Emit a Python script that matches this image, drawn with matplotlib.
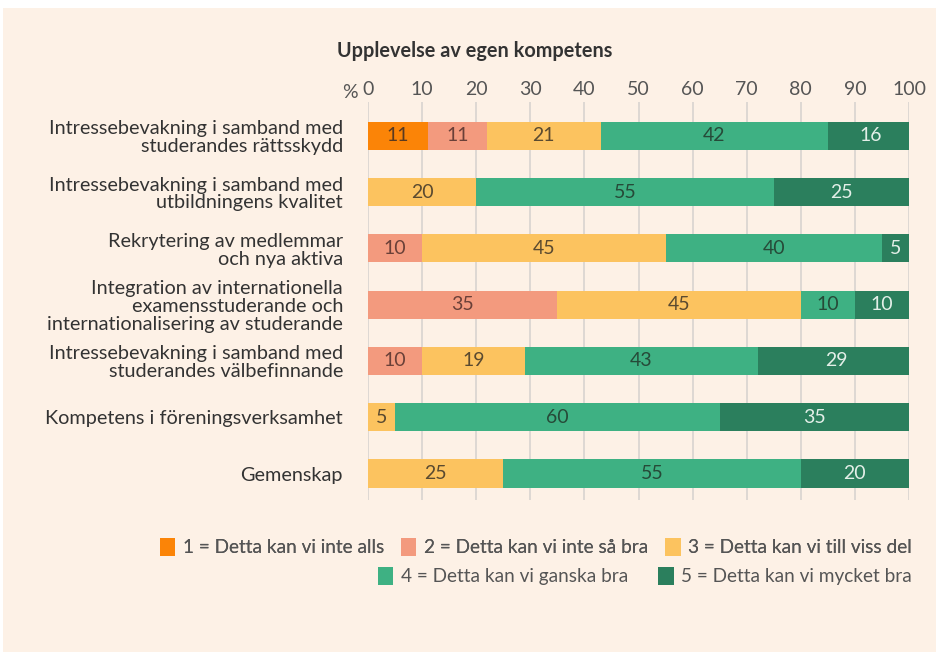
import matplotlib
matplotlib.use("Agg")
import matplotlib.pyplot as plt
from matplotlib.patches import Rectangle, Patch
import numpy as np

categories = [
    "Intressebevakning i samband med\nstuderandes rättsskydd",
    "Intressebevakning i samband med\nutbildningens kvalitet",
    "Rekrytering av medlemmar\noch nya aktiva",
    "Integration av internationella\nexamensstuderande och\ninternationalisering av studerande",
    "Intressebevakning i samband med\nstuderandes välbefinnande",
    "Kompetens i föreningsverksamhet",
    "Gemenskap",
]
series_names = [
    "1 = Detta kan vi inte alls",
    "2 = Detta kan vi inte så bra",
    "3 = Detta kan vi till viss del",
    "4 = Detta kan vi ganska bra",
    "5 = Detta kan vi mycket bra",
]
s1 = [11, 0, 0, 0, 0, 0, 0]
s2 = [11, 0, 10, 35, 10, 0, 0]
s3 = [21, 20, 45, 45, 19, 5, 25]
s4 = [42, 55, 40, 10, 43, 60, 55]
s5 = [16, 25, 5, 10, 29, 35, 20]
xticks = [0, 10, 20, 30, 40, 50, 60, 70, 80, 90, 100]
title = "Upplevelse av egen kompetens"

colors = ["#FB8407", "#F39A7E", "#FCC35F", "#3EB183", "#2B7F5D"]
label_colors = ["#5a3a20", "#6a4038", "#5a4a30", "#264a38", "#e3efe8"]
bg = "#FDF1E6"
FONT = ["Lato", "DejaVu Sans"]

plt.rcParams["font.family"] = FONT

fig = plt.figure(figsize=(9.37, 6.52), dpi=100, facecolor="white")
fig.patches.append(Rectangle((3 / 937, 0), 1, 1 - 8 / 652, transform=fig.transFigure,
                             facecolor=bg, edgecolor="none", zorder=-10))

ax = fig.add_axes([368 / 937, 1 - 500 / 652, (909 - 368) / 937, (500 - 102) / 652])
ax.set_facecolor("none")

series = [s1, s2, s3, s4, s5]
y = np.arange(len(categories))
left = np.zeros(len(categories))
for i, s in enumerate(series):
    vals = np.array(s, dtype=float)
    ax.barh(y, vals, left=left, height=0.5, color=colors[i], edgecolor="none",
            zorder=3, label=series_names[i])
    for j, v in enumerate(vals):
        if v > 0:
            ax.text(left[j] + v / 2, y[j], f"{int(v)}", ha="center", va="center",
                    fontsize=14, color=label_colors[i], zorder=4)
    left += vals

ax.set_xlim(0, 100)
ax.set_ylim(6.47, -0.6)
ax.set_xticks(xticks)
ax.set_xticklabels([str(t) for t in xticks], fontsize=14, color="#555555")
ax.xaxis.tick_top()
ax.tick_params(axis="x", length=0, pad=3)
ax.set_yticks(y)
ax.set_yticklabels(categories, fontsize=14.3, color="#333333", linespacing=1.05)
ax.tick_params(axis="y", length=0, pad=18)
for sp in ax.spines.values():
    sp.set_visible(False)
ax.grid(axis="x", color="#D8D4D0", linewidth=1.2, zorder=0)
ax.set_axisbelow(True)

fig.text(350 / 937, 1 - 93 / 652, "%", ha="center", va="center", fontsize=14,
         color="#555555")
fig.text(475 / 937, 1 - 51 / 652, title, ha="center", va="center", fontsize=14.3,
         fontweight="bold", color="#333333")

handles = [Patch(facecolor=c, edgecolor="none") for c in colors]
common = dict(frameon=False, fontsize=13.7, handlelength=0.8, handleheight=1.1,
              handletextpad=0.4, borderaxespad=0, borderpad=0)
leg1 = fig.legend(handles[:3], series_names[:3], ncol=3, loc="center right",
                  bbox_to_anchor=(912 / 937, 1 - 547 / 652), columnspacing=0.9, **common)
leg2 = fig.legend(handles[3:], series_names[3:], ncol=2, loc="center right",
                  bbox_to_anchor=(912 / 937, 1 - 576 / 652), columnspacing=1.6, **common)
for leg in (leg1, leg2):
    for t in leg.get_texts():
        t.set_color("#555555")
fig.add_artist(leg1)

fig.savefig("out.png", dpi=100, facecolor="white")
